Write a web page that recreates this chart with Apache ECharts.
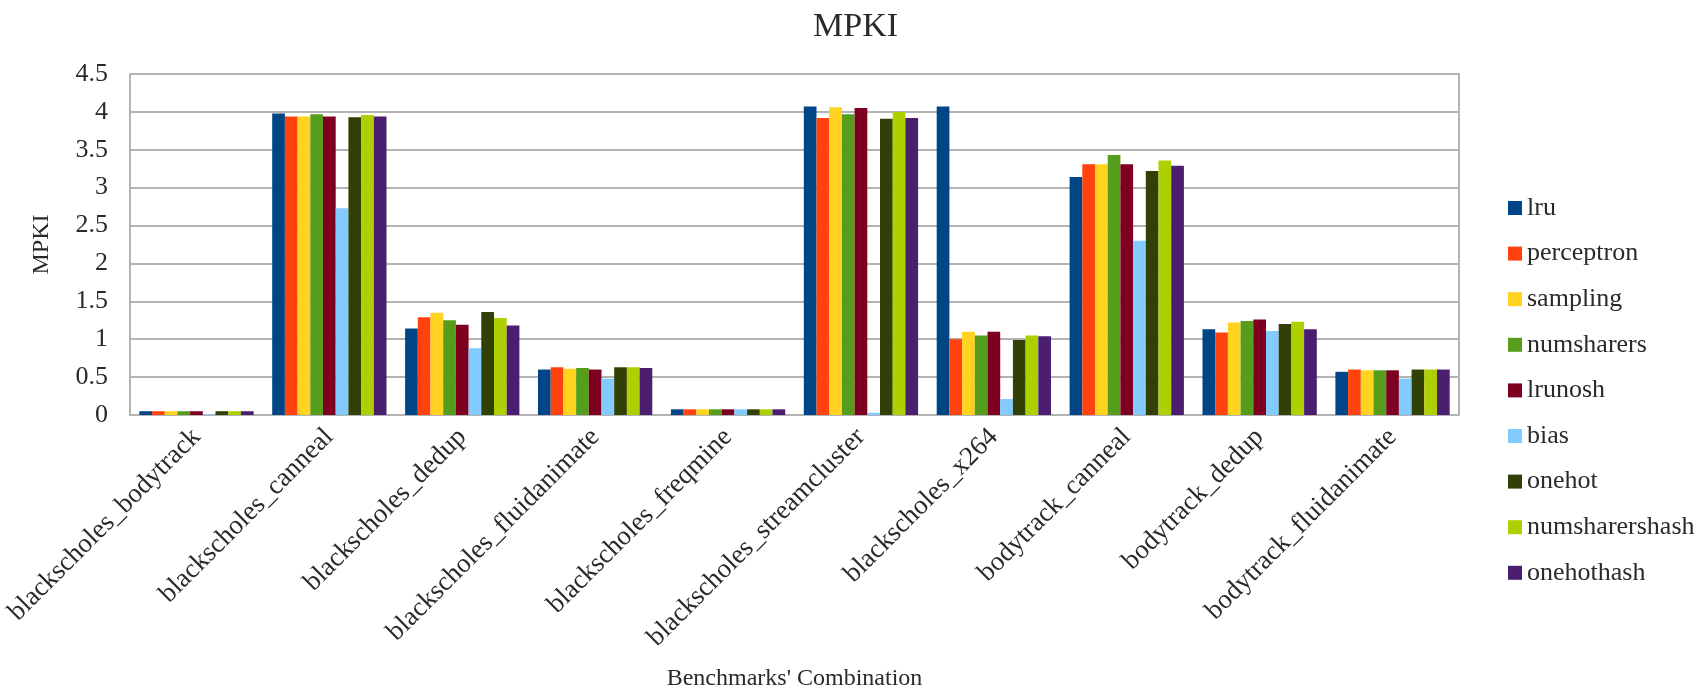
<!DOCTYPE html>
<html>
<head>
<meta charset="utf-8">
<title>MPKI</title>
<script src="https://cdn.jsdelivr.net/npm/echarts@6/dist/echarts.min.js"></script>
<style>
  html, body { margin: 0; padding: 0; background: #fff; }
  #chart { width: 1707px; height: 692px; }
</style>
</head>
<body>
<div id="chart"></div>
<script>
// Benchmark pairs on the x axis
const categories = [
  'blackscholes_bodytrack', 'blackscholes_canneal', 'blackscholes_dedup',
  'blackscholes_fluidanimate', 'blackscholes_freqmine', 'blackscholes_streamcluster',
  'blackscholes_x264', 'bodytrack_canneal', 'bodytrack_dedup', 'bodytrack_fluidanimate'
];

// MPKI per replacement policy, one value per benchmark pair
const lru            = [0.05, 3.98, 1.14, 0.60, 0.075, 4.07, 4.07, 3.14, 1.13, 0.57];
const perceptron     = [0.05, 3.94, 1.29, 0.63, 0.075, 3.92, 1.00, 3.31, 1.09, 0.60];
const sampling       = [0.05, 3.94, 1.35, 0.61, 0.075, 4.06, 1.10, 3.31, 1.22, 0.59];
const numsharers     = [0.05, 3.97, 1.25, 0.62, 0.075, 3.97, 1.05, 3.43, 1.24, 0.59];
const lrunosh        = [0.05, 3.94, 1.19, 0.60, 0.075, 4.05, 1.10, 3.31, 1.26, 0.59];
const bias           = [0.01, 2.73, 0.88, 0.48, 0.075, 0.03, 0.21, 2.30, 1.11, 0.48];
const onehot         = [0.05, 3.93, 1.36, 0.63, 0.075, 3.91, 0.99, 3.22, 1.20, 0.60];
const numsharershash = [0.05, 3.96, 1.28, 0.63, 0.075, 4.00, 1.05, 3.36, 1.23, 0.60];
const onehothash     = [0.05, 3.94, 1.18, 0.62, 0.075, 3.92, 1.04, 3.29, 1.13, 0.60];

const seriesNames = ['lru', 'perceptron', 'sampling', 'numsharers', 'lrunosh',
                     'bias', 'onehot', 'numsharershash', 'onehothash'];
const seriesData = [lru, perceptron, sampling, numsharers, lrunosh,
                    bias, onehot, numsharershash, onehothash];
const palette = ['#004586', '#ff420e', '#ffd320', '#579d1c', '#7e0021',
                 '#83caff', '#314004', '#aecf00', '#4b1f6f'];

const FONT = '"Liberation Serif", "DejaVu Serif", serif';
const TEXT = '#2a2a2a';
const GRID = '#b3b3b3';

const chart = echarts.init(document.getElementById('chart'), null, { renderer: 'canvas' });

chart.setOption({
  animation: false,
  color: palette,
  textStyle: { fontFamily: FONT, color: TEXT },
  title: {
    text: 'MPKI',
    left: 808,
    top: 5,
    textStyle: { fontFamily: FONT, fontSize: 34, fontWeight: 'normal', color: TEXT }
  },
  legend: {
    orient: 'vertical',
    left: 1503,
    top: 190,
    itemWidth: 14,
    itemHeight: 14,
    itemGap: 19.6,
    icon: 'rect',
    textStyle: { fontFamily: FONT, fontSize: 26, lineHeight: 26, color: TEXT },
    data: seriesNames
  },
  grid: {
    left: 130,
    right: 248,
    top: 74,
    bottom: 277,
    show: true,
    borderColor: GRID,
    borderWidth: 2,
    containLabel: false
  },
  xAxis: {
    type: 'category',
    data: categories,
    name: "Benchmarks' Combination",
    nameLocation: 'middle',
    nameGap: 252,
    nameTextStyle: { fontFamily: FONT, fontSize: 24, color: TEXT },
    axisLine: { lineStyle: { color: GRID, width: 2 } },
    axisTick: { show: false },
    axisLabel: {
      rotate: 45,
      interval: 0,
      margin: 18,
      fontFamily: FONT,
      fontSize: 27,
      color: TEXT
    }
  },
  yAxis: {
    type: 'value',
    min: 0,
    max: 4.5,
    interval: 0.5,
    name: 'MPKI',
    nameLocation: 'middle',
    nameGap: 76,
    nameTextStyle: { fontFamily: FONT, fontSize: 24, color: TEXT },
    axisLine: { show: true, lineStyle: { color: GRID, width: 2 } },
    axisTick: { show: false },
    splitLine: { lineStyle: { color: GRID, width: 2 } },
    axisLabel: {
      margin: 22,
      fontFamily: FONT,
      fontSize: 26,
      color: TEXT,
      formatter: v => String(v)
    }
  },
  series: seriesNames.map((name, i) => ({
    name: name,
    type: 'bar',
    data: seriesData[i],
    barGap: '0%',
    barCategoryGap: '14%'
  }))
});
</script>
</body>
</html>
